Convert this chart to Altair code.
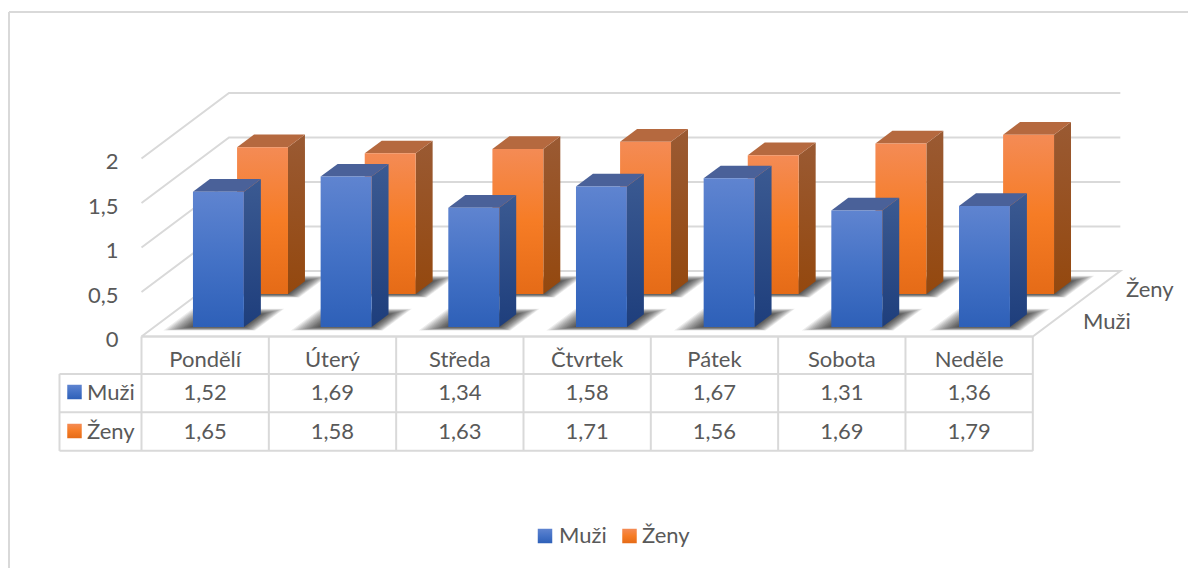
import altair as alt
import pandas as pd

days = ["Pondělí", "Úterý", "Středa", "Čtvrtek", "Pátek", "Sobota", "Neděle"]
muzi = [1.52, 1.69, 1.34, 1.58, 1.67, 1.31, 1.36]
zeny = [1.65, 1.58, 1.63, 1.71, 1.56, 1.69, 1.79]
series_names = ["Muži", "Ženy"]
y_ticks = [0, 0.5, 1, 1.5, 2]
grid_levels = [0.5, 1, 1.5, 2]

FONT = "Lato"
FS = 22
TXT = "#595959"
GRID = "#d9d9d9"

# pixel geometry -> data scale
OX, OY = 141.5, 336.5
CAT = 127.33
UNIT = 89.0
DX, DY = 87.5 / CAT, 65.5 / UNIT   # depth vector in data units per unit depth
W, H = 1180, 560
xscale = alt.Scale(domain=[(8 - OX) / CAT, (8 + W - OX) / CAT], range=[0, W], nice=False, zero=False)
yscale = alt.Scale(domain=[(OY - 8 - H) / UNIT, (OY - 8) / UNIT], range=[H, 0], nice=False, zero=False)

yaxis = alt.Axis(
    values=y_ticks, labelExpr="replace(datum.label, '.', ',')", format=".1~f",
    domain=False, ticks=False, grid=False, title=None, offset=-110, labelPadding=0,
    labelFont=FONT, labelFontSize=FS, labelColor=TXT, labelOffset=3)


def grad(*stops):
    return alt.Gradient(gradient="linear", x1=0, x2=0, y1=0, y2=1,
                        stops=[alt.GradientStop(color=c, offset=o) for o, c in stops])


def ex(f="X"):
    return alt.X(f, type="quantitative", scale=xscale, axis=None)


def ey(f="Y"):
    return alt.Y(f, type="quantitative", scale=yscale, axis=yaxis)


def proj(x, t, v=0.0):
    return x + t * DX, v + t * DY


def floor_quad(key, x0, x1, t0, t1):
    """Parallelogram on a level, as area stops."""
    rows = []
    xa, yb = proj(x0, t0)
    xb, _ = proj(x1, t0)
    xc, yt = proj(x0, t1)
    xd, _ = proj(x1, t1)
    for X, Y, Y2 in [(xa, yb, yb), (xc, yb, yt), (xb, yb, yt), (xd, yt, yt)]:
        rows.append({"k": key, "X": X, "Y": Y, "Y2": Y2})
    return rows


def area(rows, **kw):
    return alt.Chart(pd.DataFrame(rows)).mark_area(orient="vertical", **kw).encode(
        x=ex(), y=ey(), y2=alt.Y2("Y2"), detail="k:N")


BAR_W = 0.4
BAR_STEP = 1.0027
BAR_X0 = 0.3045
DEPTH = 0.194


def bars(values, t0, front, side, top, label):
    t1 = t0 + DEPTH
    front_rows, side_rows, top_rows = [], [], []
    for i, v in enumerate(values):
        x0 = BAR_X0 + i * BAR_STEP
        x1 = x0 + BAR_W
        xa, y0 = proj(x0, t0)
        xb, _ = proj(x1, t0)
        front_rows.append({"X": xa, "X2": xb, "Y": y0, "Y2": y0 + v})
        xc, yc = proj(x1, t1)
        k = f"{label}{i}"
        side_rows += [{"k": k, "X": xb, "Y": y0, "Y2": y0 + v},
                      {"k": k, "X": xc, "Y": yc, "Y2": yc + v}]
        xl, yl = proj(x0, t1)
        top_rows += [{"k": k, "X": xa, "Y": y0 + v, "Y2": y0 + v},
                     {"k": k, "X": xl, "Y": y0 + v, "Y2": yl + v},
                     {"k": k, "X": xb, "Y": y0 + v, "Y2": yl + v},
                     {"k": k, "X": xc, "Y": yl + v, "Y2": yl + v}]
    return [
        area(side_rows, fill=side, opacity=1),
        area(top_rows, color=top, opacity=1),
        alt.Chart(pd.DataFrame(front_rows)).mark_rect(fill=front, opacity=1).encode(
            x=ex(), x2=alt.X2("X2"), y=ey(), y2=alt.Y2("Y2")),
    ]


SHADOW_STEPS = 14


def shadows(n, t0, label):
    """Soft floor shadow built from nested translucent parallelograms."""
    t1 = t0 + DEPTH
    layers = []
    for j in range(SHADOW_STEPS):
        f = j / (SHADOW_STEPS - 1)
        l = 0.195 - 0.19 * f
        r = 0.125 - 0.125 * f
        a = 0.055 - 0.055 * f
        b = 0.085 - 0.085 * f
        rows = []
        for i in range(n):
            x0 = BAR_X0 + i * BAR_STEP
            rows += floor_quad(f"{label}{i}", x0 - l, x0 + BAR_W + r, t0 - a, t1 + b)
        layers.append(area(rows, color="#000000", opacity=0.075))
    return layers


# frame
frame = [
    alt.Chart(pd.DataFrame({"X": [(9 - OX) / CAT, 8.3], "Y": [(OY - 12) / UNIT] * 2})).mark_line(
        color=GRID, strokeWidth=2, clip=True).encode(x=ex(), y=ey()),
    alt.Chart(pd.DataFrame({"X": [(9 - OX) / CAT] * 2, "Y": [(OY - 12) / UNIT, -2.7]})).mark_line(
        color=GRID, strokeWidth=2, clip=True).encode(x=ex(), y=ey(), order=alt.Order("Y:Q")),
]

# gridlines: front-left -> back-left -> back-right
grid_rows = []
for lv in grid_levels:
    for s, (x, t) in enumerate([(0, 0), (0, 1), (7, 1)]):
        X, Y = proj(x, t, lv)
        grid_rows.append({"lv": lv, "s": s, "X": X, "Y": Y})
floor_rows = []
for s, (x, t) in enumerate([(0, 0), (0, 1), (7, 1), (7, 0), (0, 0)]):
    X, Y = proj(x, t, 0)
    floor_rows.append({"lv": 0, "s": s, "X": X, "Y": Y})
grid = alt.Chart(pd.DataFrame(grid_rows + floor_rows)).mark_line(color=GRID, strokeWidth=2).encode(
    x=ex(), y=ey(), detail="lv:N", order=alt.Order("s:Q"))

# data table
ROW_Y = [0, -0.42, -0.85, -1.285]
LEFT = (59.5 - OX) / CAT
tab_rows = []
tab_rows.append({"X": 0, "X2": 7, "Y": ROW_Y[0], "Y2": ROW_Y[0]})
for ry in ROW_Y[1:]:
    tab_rows.append({"X": LEFT, "X2": 7, "Y": ry, "Y2": ry})
for c in range(8):
    tab_rows.append({"X": c, "X2": c, "Y": ROW_Y[0], "Y2": ROW_Y[3]})
tab_rows.append({"X": LEFT, "X2": LEFT, "Y": ROW_Y[1], "Y2": ROW_Y[3]})
table = alt.Chart(pd.DataFrame(tab_rows)).mark_rule(color=GRID, strokeWidth=2).encode(
    x=ex(), x2=alt.X2("X2"), y=ey(), y2=alt.Y2("Y2"))


def fmt(v):
    return f"{v:.2f}".replace(".", ",")


ROW_MUZI = -0.637
ROW_ZENY = -1.07
cells = []
for i, d in enumerate(days):
    cells.append({"X": i + 0.5, "Y": -0.264, "t": d})
    cells.append({"X": i + 0.5, "Y": ROW_MUZI, "t": fmt(muzi[i])})
    cells.append({"X": i + 0.5, "Y": ROW_ZENY, "t": fmt(zeny[i])})
table_text = alt.Chart(pd.DataFrame(cells)).mark_text(
    font=FONT, fontSize=FS, color=TXT, align="center", baseline="middle").encode(x=ex(), y=ey(), text="t:N")

left_labels = [
    {"X": (87 - OX) / CAT, "Y": ROW_MUZI, "t": series_names[0]},
    {"X": (87 - OX) / CAT, "Y": ROW_ZENY, "t": series_names[1]},
    {"X": (1083 - OX) / CAT, "Y": (OY - 322) / UNIT, "t": series_names[0]},
    {"X": (1126 - OX) / CAT, "Y": (OY - 290) / UNIT, "t": series_names[1]},
    {"X": (559 - OX) / CAT, "Y": (OY - 536) / UNIT, "t": series_names[0]},
    {"X": (642 - OX) / CAT, "Y": (OY - 536) / UNIT, "t": series_names[1]},
]
left_text = alt.Chart(pd.DataFrame(left_labels)).mark_text(
    font=FONT, fontSize=FS, color=TXT, align="left", baseline="middle").encode(x=ex(), y=ey(), text="t:N")

BLUE = grad((0, "#5f84d0"), (0.5, "#4472c6"), (1, "#2e60b8"))
ORANGE = grad((0, "#f48b55"), (0.5, "#f67c25"), (1, "#e56b17"))
BLUE_SIDE = grad((0, "#3b5a92"), (1, "#1e3e7c"))
ORANGE_SIDE = grad((0, "#9a5a33"), (1, "#94480e"))

blue_keys = pd.DataFrame({"X": [(74.5 - OX) / CAT, (545 - OX) / CAT],
                          "Y": [(OY - 392) / UNIT, (OY - 536) / UNIT]})
orange_keys = pd.DataFrame({"X": [(74.5 - OX) / CAT, (629.5 - OX) / CAT],
                            "Y": [(OY - 431) / UNIT, (OY - 536) / UNIT]})
keys = [
    alt.Chart(blue_keys).mark_point(shape="square", size=210, filled=True, fill=BLUE, opacity=1, strokeWidth=0).encode(x=ex(), y=ey()),
    alt.Chart(orange_keys).mark_point(shape="square", size=210, filled=True, fill=ORANGE, opacity=1, strokeWidth=0).encode(x=ex(), y=ey()),
]

T_BLUE = 0.145
T_ORANGE = 0.649

layers = (
    frame + [grid]
    + shadows(7, T_ORANGE, "sz")
    + bars(zeny, T_ORANGE, ORANGE, ORANGE_SIDE, "#b5693f", "z")
    + shadows(7, T_BLUE, "sm")
    + bars(muzi, T_BLUE, BLUE, BLUE_SIDE, "#4a6199", "m")
    + [table, table_text, left_text] + keys
)

chart = alt.layer(*layers).properties(
    width=W, height=H, padding=0, autosize=alt.AutoSizeParams(type="none"), background="white"
).configure_view(stroke=None)

chart.save("out.html", embed_options={"renderer": "svg", "actions": False})
